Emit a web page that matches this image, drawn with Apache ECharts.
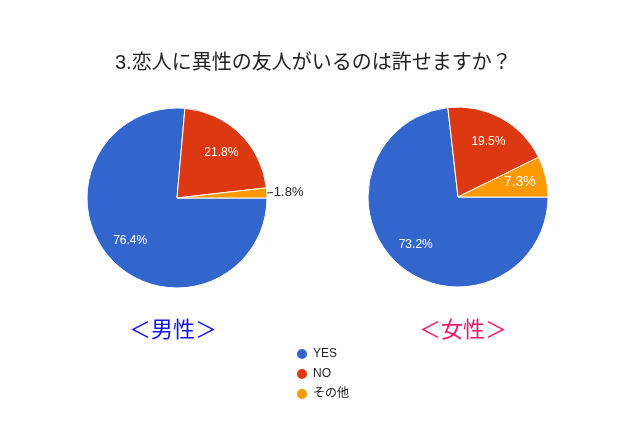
<!DOCTYPE html>
<html><head><meta charset="utf-8">
<script src="https://cdn.jsdelivr.net/npm/echarts@6/dist/echarts.min.js"></script>
<style>html,body{margin:0;padding:0;background:#fff}#c{width:640px;height:427px}</style>
</head><body><div id="c"></div>
<script>
const categories = ['YES', 'NO', 'その他'];
const maleValues = [76.4, 21.8, 1.8];
const femaleValues = [73.2, 19.5, 7.3];
const colors = ['#3366cc', '#dc3912', '#ff9900'];
const FONT = '"Liberation Sans", Arial, "Noto Sans CJK JP", sans-serif';

function mainSeries(vals, center, outsideIdx) {
  return {
    type: 'pie', center: center, radius: [0, 90], startAngle: 0, clockwise: true,
    silent: true, animation: false,
    itemStyle: { borderColor: '#fff', borderWidth: 1 },
    label: { show: false },
    labelLine: { show: false },
    data: vals.map((v, i) => {
      const d = { name: categories[i], value: v, itemStyle: { color: colors[i] } };
      if (i === outsideIdx) {
        d.label = { show: true, position: 'outside', formatter: p => p.value.toFixed(1) + '%',
          color: '#222', fontSize: 13, fontFamily: FONT, distanceToLabelLine: 1 };
        d.labelLine = { show: true, length: 6, length2: 0, lineStyle: { color: '#222', width: 1 } };
      }
      return d;
    })
  };
}
function labelSeries(vals, center, outsideIdx, bigIdx) {
  return {
    type: 'pie', center: center, radius: [0, 121], startAngle: 0, clockwise: true,
    silent: true, animation: false, z: 5,
    itemStyle: { color: 'rgba(0,0,0,0)', borderWidth: 0 },
    labelLine: { show: false },
    label: { show: true, position: 'inside', color: '#fff', fontSize: 12, fontFamily: FONT,
      formatter: p => p.value.toFixed(1) + '%' },
    data: vals.map((v, i) => {
      const d = { name: categories[i], value: v };
      if (i === outsideIdx) d.label = { show: false };
      if (i === bigIdx) d.label = { fontSize: 14 };
      return d;
    })
  };
}
const chart = echarts.init(document.getElementById('c'));
chart.setOption({
  backgroundColor: '#fff',
  animation: false,
  color: colors,
  title: [
    { text: '3.恋人に異性の友人がいるのは許せますか？', left: 110, top: 48,
      textStyle: { fontSize: 20, fontWeight: 'normal', color: '#222', fontFamily: FONT } },
    { text: '＜男性＞', left: 168, top: 315, textAlign: 'center',
      textStyle: { fontSize: 22, fontWeight: 'normal', color: '#1111ee', fontFamily: FONT } },
    { text: '＜女性＞', left: 458, top: 315, textAlign: 'center',
      textStyle: { fontSize: 22, fontWeight: 'normal', color: '#f0186a', fontFamily: FONT } }
  ],
  legend: {
    orient: 'vertical', left: 290, top: 342, itemGap: 6,
    icon: 'circle', itemWidth: 12, itemHeight: 12,
    data: categories,
    textStyle: { fontSize: 12, color: '#222', fontFamily: FONT }
  },
  series: [
    mainSeries(maleValues, [177, 198], 2),
    mainSeries(femaleValues, [458, 197], -1),
    labelSeries(maleValues, [177, 198], 2, -1),
    labelSeries(femaleValues, [458, 197], -1, 2)
  ]
});
</script></body></html>
